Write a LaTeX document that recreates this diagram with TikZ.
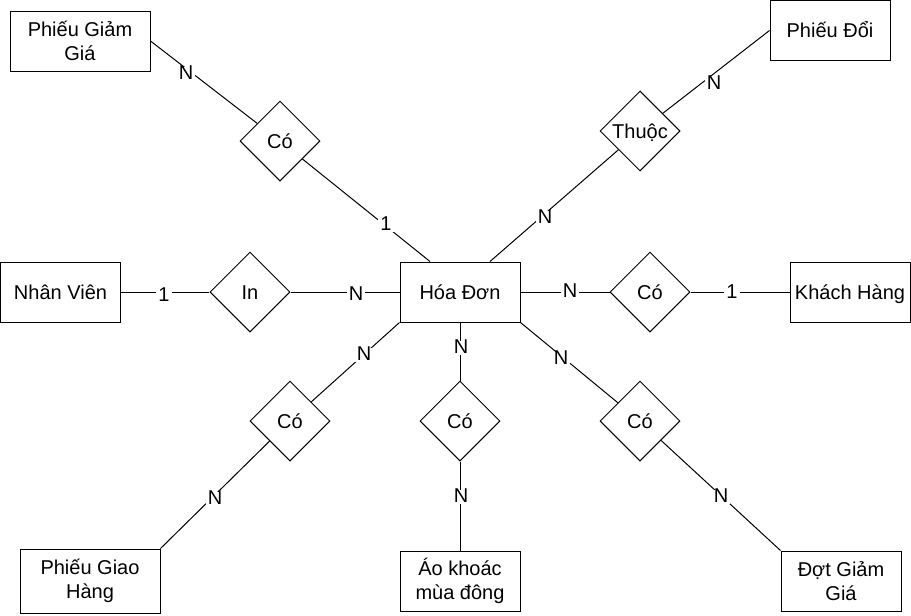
\documentclass[tikz,border=0pt]{standalone}
\usepackage{fontspec}
\setmainfont{Liberation Sans}
\usetikzlibrary{shapes.geometric,calc}
\begin{document}
\begin{tikzpicture}[x=0.75pt,y=-0.75pt,
  every node/.style={font=\fontsize{15pt}{17.5pt}\selectfont},
  entity/.style={draw,line width=0.75pt,minimum width=120*0.75pt,minimum height=60*0.75pt,inner sep=0pt,align=center},
  oneline/.style={text height=13pt,text depth=2.3pt},
  rel/.style={draw,diamond,shape aspect=1,line width=0.75pt,minimum width=80*0.75pt,minimum height=80*0.75pt,inner sep=0pt,oneline},
  lbl/.style={fill=white,inner sep=1.5pt,text height=8pt,text depth=0pt},
  conn/.style={line width=0.75pt}]
\useasboundingbox (0,0) rectangle (911,615);
% entities
\node[entity,minimum width=140*0.75pt] (pgg) at (80,41) {Phiếu Giảm\\Giá};
\node[entity,oneline] (pd) at (830,30.5) {Phiếu Đổi};
\node[entity,oneline] (nv) at (60.5,292) {Nhân Viên};
\node[entity,oneline] (hd) at (460,292) {Hóa Đơn};
\node[entity,oneline] (kh) at (850,292) {Khách Hàng};
\node[entity,minimum width=140*0.75pt,minimum height=64*0.75pt] (pgh) at (90,581) {Phiếu Giao\\Hàng};
\node[entity] (ao) at (460,581) {Áo khoác\\mùa đông};
\node[entity] (dgg) at (841,581) {Đợt Giảm\\Giá};
% relationships
\node[rel] (co1) at (280,141) {Có};
\node[rel] (thuoc) at (640,131) {Thuộc};
\node[rel] (in) at (250,292) {In};
\node[rel] (co2) at (650,292) {Có};
\node[rel] (co3) at (290,421) {Có};
\node[rel] (co4) at (460,421) {Có};
\node[rel] (co5) at (640,421) {Có};
% connectors
\draw[conn] (pgg.east) -- (co1);
\draw[conn] (co1) -- ($(hd.north)+(-30,0)$);
\draw[conn] (pd.west) -- (thuoc);
\draw[conn] (thuoc) -- ($(hd.north)+(30,0)$);
\draw[conn] (nv) -- (in);
\draw[conn] (in) -- (hd);
\draw[conn] (hd) -- (co2);
\draw[conn] (co2) -- (kh);
\draw[conn] (hd.south west) -- (co3);
\draw[conn] (co3) -- (pgh.north east);
\draw[conn] (hd) -- (co4);
\draw[conn] (co4) -- (ao);
\draw[conn] (hd.south east) -- (co5);
\draw[conn] (co5) -- (dgg.north west);
% cardinality labels
\node[lbl] (l1) at (186,74) {N};
\node[lbl] (l2) at (386,225) {1};
\node[lbl] (l3) at (714,84) {N};
\node[lbl] (l4) at (545,218) {N};
\node[lbl] (l5) at (164,296) {1};
\node[lbl] (l6) at (356,295) {N};
\node[lbl] (l7) at (570,292) {N};
\node[lbl] (l8) at (732,293) {1};
\node[lbl] (l9) at (364,355) {N};
\node[lbl] (l10) at (215,499) {N};
\node[lbl] (l11) at (461,348) {N};
\node[lbl] (l12) at (461,497) {N};
\node[lbl] (l13) at (561,359) {N};
\node[lbl] (l14) at (721,497) {N};
\end{tikzpicture}
\end{document}
